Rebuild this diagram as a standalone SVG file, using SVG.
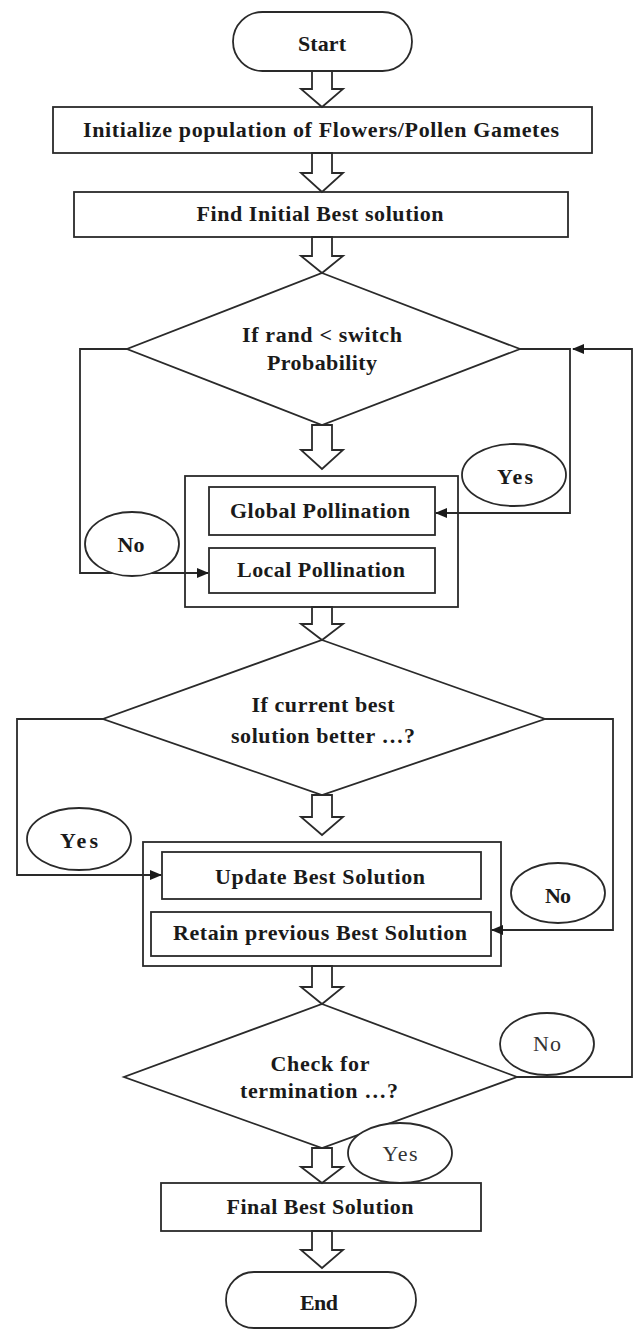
<svg xmlns="http://www.w3.org/2000/svg" width="635" height="1330" viewBox="0 0 635 1330">
<style>
.s{fill:#fff;stroke:#2a2a2a;stroke-width:1.8}
.c{fill:none;stroke:#2a2a2a;stroke-width:1.8}
.t{font-family:"Liberation Serif","Times New Roman",serif;font-size:22px;font-weight:bold;fill:#1a1a1a;text-anchor:middle}
.l{font-weight:normal;fill:#333}
</style>
<defs>
<marker id="ah" markerWidth="12" markerHeight="10" refX="11" refY="5" orient="auto" markerUnits="userSpaceOnUse">
<path d="M0,0 L12,5 L0,10 Z" fill="#1a1a1a"/>
</marker>
</defs>
<g id="start"><rect class="s" x="233" y="12" width="179" height="59" rx="29.5"/><text class="t" x="322" y="51" textLength="48" lengthAdjust="spacing">Start</text></g>
<g id="init"><rect class="s" x="53" y="107" width="539" height="46"/><text class="t" x="321" y="137" textLength="476" lengthAdjust="spacing">Initialize population of Flowers/Pollen Gametes</text></g>
<g id="find"><rect class="s" x="74" y="192" width="494" height="45"/><text class="t" x="320" y="221" textLength="247" lengthAdjust="spacing">Find Initial Best solution</text></g>
<g id="decision1"><polygon class="s" points="322,273 520,349 322,425 127,349"/><text class="t" x="322" y="342" textLength="160" lengthAdjust="spacing">If rand &lt; switch</text><text class="t" x="322" y="370" textLength="110" lengthAdjust="spacing">Probability</text></g>
<g id="pollination"><rect class="s" x="185" y="476" width="273" height="131"/>
<g id="global"><rect class="s" x="209" y="487" width="226" height="48"/><text class="t" x="320" y="518" textLength="180" lengthAdjust="spacing">Global Pollination</text></g>
<g id="local"><rect class="s" x="209" y="548" width="226" height="45"/><text class="t" x="321" y="577" textLength="168" lengthAdjust="spacing">Local Pollination</text></g></g>
<g id="decision2"><polygon class="s" points="322,640 545,719 322,795 103,719"/><text class="t" x="323" y="712" textLength="143" lengthAdjust="spacing">If current best</text><text class="t" x="323" y="743" textLength="184" lengthAdjust="spacing">solution better …?</text></g>
<g id="bestsel"><rect class="s" x="143" y="842" width="358" height="124"/>
<g id="update"><rect class="s" x="162" y="852" width="319" height="47"/><text class="t" x="320" y="884" textLength="210" lengthAdjust="spacing">Update Best Solution</text></g>
<g id="retain"><rect class="s" x="151" y="912" width="340" height="44"/><text class="t" x="320" y="940" textLength="294" lengthAdjust="spacing">Retain previous Best Solution</text></g></g>
<g id="decision3"><polygon class="s" points="322,1004 517,1077 322,1148 124,1077"/><text class="t" x="320" y="1071" textLength="99" lengthAdjust="spacing">Check for</text><text class="t" x="319" y="1098" textLength="158" lengthAdjust="spacing">termination …?</text></g>
<g id="final"><rect class="s" x="161" y="1183" width="320" height="48"/><text class="t" x="320" y="1214" textLength="187" lengthAdjust="spacing">Final Best Solution</text></g>
<g id="end"><rect class="s" x="226" y="1272" width="190" height="56" rx="28"/><text class="t" x="319" y="1310" textLength="38" lengthAdjust="spacing">End</text></g>
<g id="connectors">
<polygon class="s" points="312,71 332,71 332,89 343,89 322,107 301,89 312,89"/>
<polygon class="s" points="312,153 332,153 332,173 343,173 322,192 301,173 312,173"/>
<polygon class="s" points="312,237 332,237 332,256 343,256 322,273 301,256 312,256"/>
<polygon class="s" points="312,425 332,425 332,450 343,450 322,469 301,450 312,450"/>
<polygon class="s" points="312,607 332,607 332,624 343,624 322,640 301,624 312,624"/>
<polygon class="s" points="312,795 332,795 332,817 343,817 322,835 301,817 312,817"/>
<polygon class="s" points="312,966 332,966 332,987 343,987 322,1004 301,987 312,987"/>
<polygon class="s" points="312,1148 332,1148 332,1167 343,1167 322,1183 301,1167 312,1167"/>
<polygon class="s" points="312,1231 332,1231 332,1250 343,1250 322,1268 301,1250 312,1250"/>
<polyline class="c" points="127,349 80,349 80,573 208,573" marker-end="url(#ah)"/>
<polyline class="c" points="520,349 570,349 570,513 436,513" marker-end="url(#ah)"/>
<polyline class="c" points="517,1077 632,1077 632,349 573,349" marker-end="url(#ah)"/>
<polyline class="c" points="103,719 17,719 17,875 161,875" marker-end="url(#ah)"/>
<polyline class="c" points="545,719 613,719 613,930 492,930" marker-end="url(#ah)"/>
</g>
<g id="yes1"><ellipse class="s" cx="514" cy="475" rx="52" ry="31"/><text class="t" x="515" y="484" textLength="36" lengthAdjust="spacing">Yes</text></g>
<g id="no1"><ellipse class="s" cx="132" cy="544" rx="47" ry="32"/><text class="t" x="131" y="552" textLength="27" lengthAdjust="spacing">No</text></g>
<g id="yes2"><ellipse class="s" cx="79" cy="839" rx="52" ry="31"/><text class="t" x="79" y="848" textLength="38" lengthAdjust="spacing">Yes</text></g>
<g id="no2"><ellipse class="s" cx="558" cy="893" rx="47" ry="30"/><text class="t" x="558" y="903" textLength="26" lengthAdjust="spacing">No</text></g>
<g id="no3"><ellipse class="s" cx="547" cy="1044" rx="47" ry="31"/><text class="t l" x="547" y="1051" textLength="28" lengthAdjust="spacing">No</text></g>
<g id="yes3"><ellipse class="s" cx="400" cy="1153" rx="52" ry="30"/><text class="t l" x="400" y="1161" textLength="35" lengthAdjust="spacing">Yes</text></g>
</svg>
